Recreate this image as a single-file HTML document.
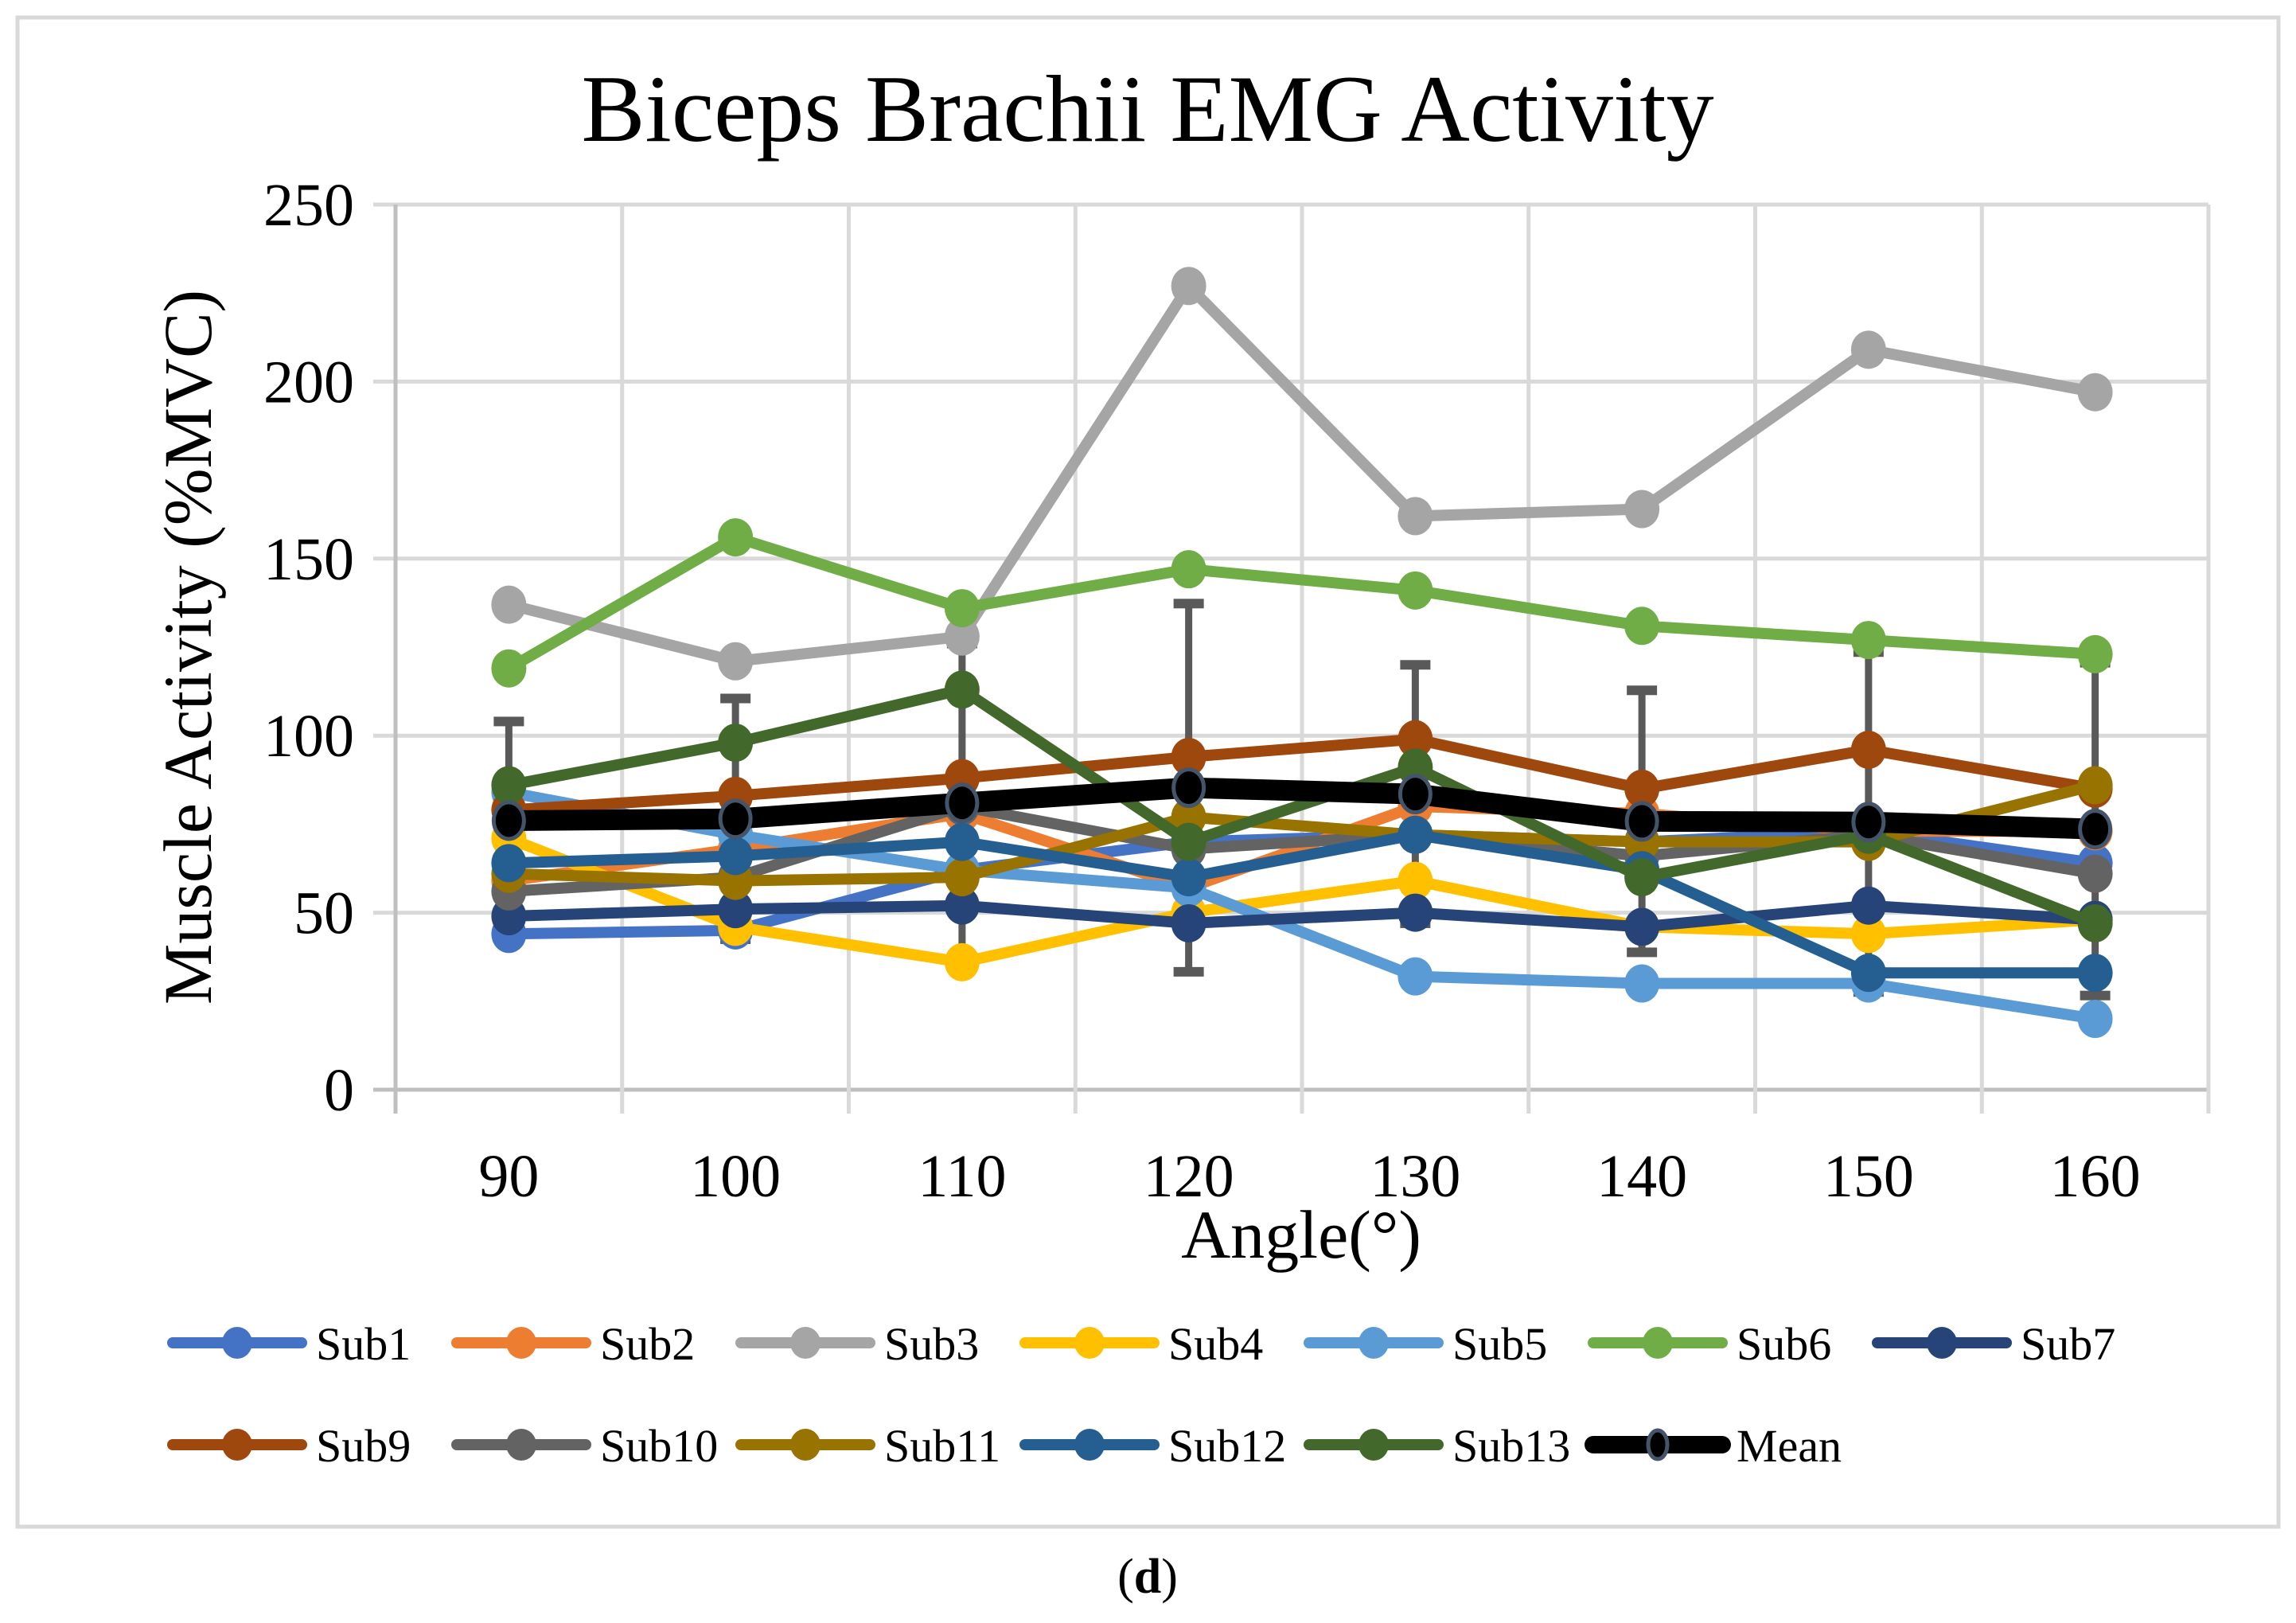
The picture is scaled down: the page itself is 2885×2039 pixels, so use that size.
<!DOCTYPE html>
<html><head><meta charset="utf-8">
<style>
html,body{margin:0;padding:0;background:#fff;}
svg{display:block;font-family:"Liberation Serif",serif;}
</style></head>
<body>
<svg id="chart" width="2885" height="2039" viewBox="0 0 2885 2039">
<rect x="22" y="22" width="2841" height="1896" fill="#fff" stroke="#d9d9d9" stroke-width="5"/>
<text x="1442" y="177" font-size="120" text-anchor="middle">Biceps Brachii EMG Activity</text>
<text x="1442" y="2001" font-size="62" text-anchor="middle">(<tspan font-weight="bold">d</tspan>)</text>
<g id="plot"></g>
<g id="legend"></g>
</svg>
<script>
const categories = [90,100,110,120,130,140,150,160];
const yTicks = [0,50,100,150,200,250];
const seriesNames = ["Sub1","Sub2","Sub3","Sub4","Sub5","Sub6","Sub7","Sub9","Sub10","Sub11","Sub12","Sub13"];
const sub1 = [44,45,62,70,72,70,73,64];
const sub2 = [59,68,78,57,80,78,73,73];
const sub3 = [137,121,128,227,162,164,209,197];
const sub4 = [71,46,36,50,59,46,44,48];
const sub5 = [84,72,62,57,32,30,30,20];
const sub6 = [119,156,136,147,141,131,127,123];
const sub7 = [49,51,52,47,50,46,52,48];
const sub9 = [79,83,88,94,99,85,96,85];
const sub10 = [56,60,80,68,72,66,72,61];
const sub11 = [61,59,60,77,72,70,70,86];
const sub12 = [64,66,70,60,72,62,33,33];
const sub13 = [86,98,113,70,91,60,72,47];
const mean = [76,76.5,81,85.3,83.5,75.8,75.6,73.6];
const sd = [28,34,45,52,36.5,37,48,47];
const colors = ["#4472C4","#ED7D31","#A5A5A5","#FFC000","#5B9BD5","#70AD47","#264478","#9E480E","#636363","#997300","#255E91","#43682B"];
const seriesData = [sub1,sub2,sub3,sub4,sub5,sub6,sub7,sub9,sub10,sub11,sub12,sub13];

const NS="http://www.w3.org/2000/svg";
const X0=497, X1=2775, Y0=1369, Y1=257, YMAX=250;
const band=(X1-X0)/categories.length;
function xPos(i){return X0+band*(i+0.5);}
function yPos(v){return Y0-(v/YMAX)*(Y0-Y1);}
function mk(tag,attrs,parent){const e=document.createElementNS(NS,tag);for(const k in attrs)e.setAttribute(k,attrs[k]);parent.appendChild(e);return e;}
const plot=document.getElementById('plot');

yTicks.forEach(t=>{
  const l=mk('line',{x1:X0-28,x2:X1,y1:yPos(t),y2:yPos(t),stroke:t===0?'#bfbfbf':'#d9d9d9','stroke-width':5},plot);
  
  
  const tx=mk('text',{x:X0-52,y:yPos(t)+26,'font-size':76,'text-anchor':'end'},plot);
  tx.textContent=t;
  
  
});
for(let i=0;i<=categories.length;i++){
  const x=X0+band*i;
  const l=mk('line',{x1:x,x2:x,y1:Y1,y2:Y0+30,stroke:i===0?'#bfbfbf':'#d9d9d9','stroke-width':5},plot);
  
  
}
categories.forEach((c,i)=>{
  const tx=mk('text',{x:xPos(i),y:1503,'font-size':76,'text-anchor':'middle'},plot);
  tx.textContent=c;
  
  
});
const xt=mk('text',{x:1635,y:1580,'font-size':86,'text-anchor':'middle'},plot);
xt.textContent='Angle(°)';


const yt=mk('text',{x:0,y:0,'font-size':86,'text-anchor':'middle',transform:'translate(265,813) rotate(-90)'},plot);
yt.textContent='Muscle Activity (%MVC)';



mean.forEach((m,i)=>{
  const x=xPos(i);
  const g=mk('g',{},plot);
  
  
  mk('line',{x1:x,x2:x,y1:yPos(m+sd[i]),y2:yPos(m-sd[i]),stroke:'#595959','stroke-width':9},g);
  mk('rect',{x:x-19,y:yPos(m+sd[i])-6,width:38,height:12,fill:'#595959'},g);
  mk('rect',{x:x-19,y:yPos(m-sd[i])-6,width:38,height:12,fill:'#595959'},g);
});

function drawSeries(vals,color,name,w,isMean){
  const g=mk('g',{},plot);
  
  
  const pts=vals.map((v,i)=>xPos(i)+','+yPos(v)).join(' ');
  mk('polyline',{points:pts,fill:'none',stroke:color,'stroke-width':w,'stroke-linejoin':'round','stroke-linecap':'round'},g);
  vals.forEach((v,i)=>{
    const c=mk('ellipse',{cx:xPos(i),cy:yPos(v),rx:isMean?19:22,ry:isMean?23:24,fill:color,stroke:isMean?'#44546A':'none','stroke-width':isMean?5:0},g);
    
    
  });
}
seriesData.forEach((d,k)=>drawSeries(d,colors[k],seriesNames[k],14,false));
drawSeries(mean,'#000','Mean',26,true);

const leg=document.getElementById('legend');
const legItems=seriesNames.map((n,k)=>({n:n,c:colors[k],m:false})).concat([{n:'Mean',c:'#000',m:true}]);
legItems.forEach((it,k)=>{
  const row=k<7?0:1, col=k<7?k:k-7;
  const x=212+col*357, y=row===0?1687:1815;
  const g=mk('g',{},leg);
  
  
  mk('line',{x1:x+5,x2:x+167,y1:y,y2:y,stroke:it.c,'stroke-width':it.m?22:14,'stroke-linecap':'round'},g);
  mk('ellipse',{cx:x+86,cy:y,rx:it.m?12:19,ry:it.m?18:20,fill:it.c,stroke:it.m?'#44546A':'none','stroke-width':it.m?5:0},g);
  const t=mk('text',{x:x+185,y:y+21,'font-size':58},g);
  t.textContent=it.n;
});
</script>
</body></html>
